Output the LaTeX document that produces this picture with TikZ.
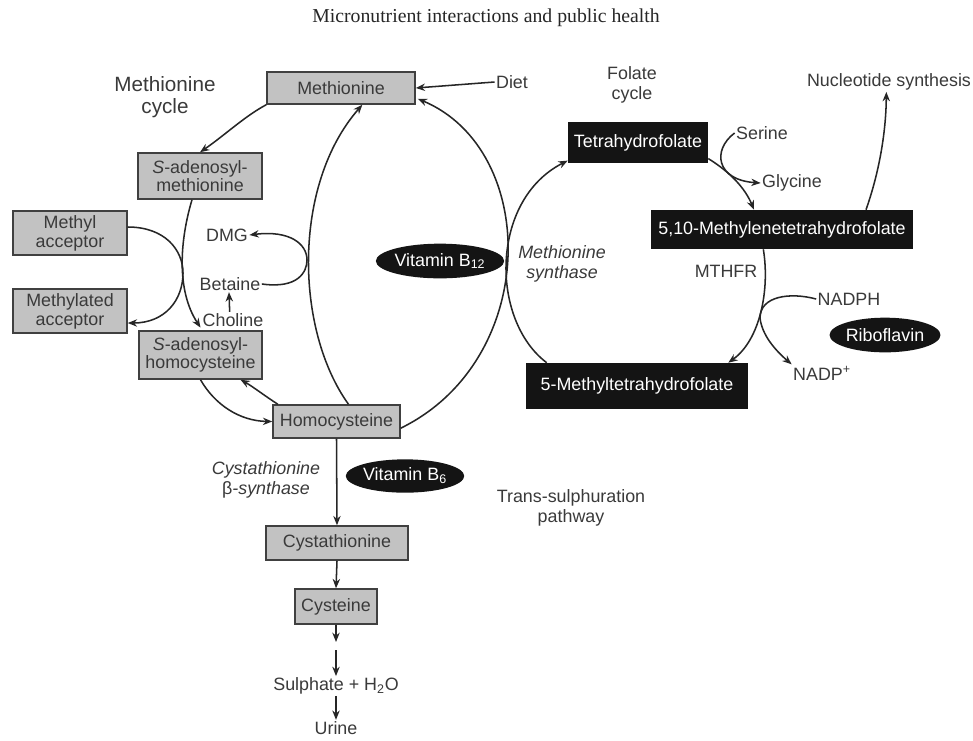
\documentclass[tikz,border=0pt]{standalone}
\usepackage{fontspec}
\setmainfont{Liberation Sans}
\newfontfamily\titlefont{Liberation Serif}
\usetikzlibrary{shapes.geometric,arrows.meta,calc}
\definecolor{boxgray}{HTML}{C2C2C2}
\definecolor{txtgray}{HTML}{3A3A3A}
\begin{document}
\begin{tikzpicture}[x=0.75pt,y=-0.75pt,
  font=\fontsize{13.4}{13.6}\selectfont,
  gbox/.style={draw=black!75,line width=1.1pt,fill=boxgray,text=txtgray,align=center,inner sep=0pt},
  bbox/.style={fill=black!92,text=white,align=center,inner sep=0pt},
  oval/.style={ellipse,fill=black!92,text=white,inner sep=0pt,minimum width=79.5pt,minimum height=26pt},
  lbl/.style={text=txtgray,align=center,inner sep=1pt},
  arr/.style={draw=black!85,line width=1.15pt,-{Stealth[length=7pt,width=5.5pt]}},
]
\useasboundingbox (0,0) rectangle (973,740);
\fill[white] (0,0) rectangle (973,740);

% title
\node[lbl,text=black!85,font=\titlefont\fontsize{14.8}{16}\selectfont] (title) at (486,18) {Micronutrient interactions and public health};

% methionine cycle boxes
\node[gbox,minimum width=111pt,minimum height=24pt] (met) at (341,88) {Methionine};
\node[gbox,minimum width=93pt,minimum height=34.5pt] (sam) at (200,176) {\textit{S}-adenosyl-\\methionine};
\node[gbox,minimum width=85.5pt,minimum height=33pt,font=\fontsize{13.4}{14.2}\selectfont] (macc) at (70,233) {Methyl\\acceptor};
\node[gbox,minimum width=85.5pt,minimum height=33pt,font=\fontsize{13.4}{14.2}\selectfont] (mdacc) at (70,311) {Methylated\\acceptor};
\node[gbox,minimum width=92.25pt,minimum height=36pt] (sah) at (200.5,355) {\textit{S}-adenosyl-\\homocysteine};
\node[gbox,minimum width=95.25pt,minimum height=24.75pt] (hcy) at (336.5,421.5) {Homocysteine};
\node[gbox,minimum width=106.5pt,minimum height=25.5pt] (cysth) at (337,543) {Cystathionine};
\node[gbox,minimum width=61.5pt,minimum height=26.25pt] (cys) at (336,606.5) {Cysteine};

% folate cycle boxes
\node[bbox,minimum width=105pt,minimum height=30.75pt] (thf) at (638,142.5) {Tetrahydrofolate};
\node[bbox,minimum width=196.5pt,minimum height=29.25pt] (mthf10) at (782,229.5) {5,10-Methylenetetrahydrofolate};
\node[bbox,minimum width=166.5pt,minimum height=34.5pt] (mthf5) at (637,386) {5-Methyltetrahydrofolate};

% ovals
\node[oval] (b12) at (440,261) {Vitamin B\textsubscript{12}};
\node[oval,minimum width=80pt,minimum height=25pt] (b6) at (405,476) {Vitamin B\textsubscript{6}};
\node[oval] (ribo) at (885,335) {Riboflavin};

% labels
\node[lbl,font=\fontsize{15.5}{17}\selectfont] (metcyc) at (165,97) {Methionine\\cycle};
\node[lbl] (diet) at (512,82) {Diet};
\node[lbl,font=\fontsize{13.4}{15.5}\selectfont] (folcyc) at (632,85) {Folate\\cycle};
\node[lbl] (nucl) at (889,82) {Nucleotide synthesis};
\node[lbl] (serine) at (762,133) {Serine};
\node[lbl] (glycine) at (792,183) {Glycine};
\node[lbl] (mthfr) at (726,271) {MTHFR};
\node[lbl] (nadph) at (849,299) {NADPH};
\node[lbl] (nadp) at (822,373) {NADP\textsuperscript{+}};
\node[lbl,font=\itshape\fontsize{13.4}{14.5}\selectfont] (msyn) at (562,264) {Methionine\\synthase};
\node[lbl] (dmg) at (227,235) {DMG};
\node[lbl] (betaine) at (230,284) {Betaine};
\node[lbl] (choline) at (233,320) {Choline};
\node[lbl,font=\itshape\fontsize{13.4}{15}\selectfont] (cbs) at (266,480) {Cystathionine\\\textup{β}-synthase};
\node[lbl,font=\fontsize{13.4}{15}\selectfont] (trans) at (571,508) {Trans-sulphuration\\pathway};
\node[lbl] (sulph) at (336,686) {Sulphate + H\textsubscript{2}O};
\node[lbl] (urine) at (336,728) {Urine};

\coordinate (c1) at (336,642);
\coordinate (c2) at (336,650);

% connectors - methionine cycle
\draw[arr] (diet.west) -- (met.east);
\draw[arr] (met.south west) .. controls (245,116) and (225,135) .. (sam.north);
\draw[arr] ([xshift=-6pt]sam.south) .. controls (180,240) and (176,290) .. ([yshift=2pt]sah.north);
\draw[arr] ([yshift=4.5pt]macc.east) .. controls (165,227) and (183,250) .. (183,273)
   .. controls (183,300) and (165,323) .. ([yshift=-9pt]mdacc.east);
\draw[arr] (sah.south) .. controls (215,405) and (240,421) .. (hcy.west);
\draw[arr] ([xshift=-44pt]hcy.north) .. controls (265,396) and (252,386) .. ([xshift=30pt]sah.south);
\draw[arr] ([xshift=9pt]hcy.north) .. controls (295,330) and (292,185) .. ([xshift=16pt]met.south);
\draw[arr] (betaine.east) .. controls (298,289) and (307,272) .. (307,260)
   .. controls (307,244) and (290,230) .. (dmg.east);
\draw[arr] ([xshift=-2.5pt]choline.north) -- ([xshift=-0.75pt]betaine.south);
\draw[arr] ([yshift=-5pt]hcy.east) .. controls (540,360) and (540,150) .. ([xshift=1.5pt,yshift=4.5pt]met.south east);

% folate cycle
\draw[arr] ([xshift=15.75pt]mthf5.north west) .. controls (490,320) and (490,200) .. ([yshift=2pt]thf.south west);
\draw[arr] ([yshift=3.5pt]thf.south east) .. controls (730,172) and (745,188) .. ([xshift=-21pt]mthf10.north);
\draw[arr] (serine.west) .. controls (712,150) and (716,180) .. (glycine.west);
\draw[arr] ([xshift=-14pt]mthf10.south) .. controls (770,290) and (760,340) .. ([xshift=-15pt]mthf5.north east);
\draw[arr] (nadph.west) .. controls (790,292) and (760,296) .. (760,318)
   .. controls (762,335) and (775,350) .. (nadp.north west);
\draw[arr] ([xshift=63pt]mthf10.north) .. controls (880,170) and (886,130) .. ([xshift=-2pt]nucl.south);

% trans-sulphuration
\draw[arr] (hcy.south) -- (cysth.north);
\draw[arr] (cysth.south) -- (cys.north);
\draw[arr] (cys.south) -- (c1);
\draw[arr] (c2) -- (sulph.north);
\draw[arr] (sulph.south) -- (urine.north);
\end{tikzpicture}
\end{document}
